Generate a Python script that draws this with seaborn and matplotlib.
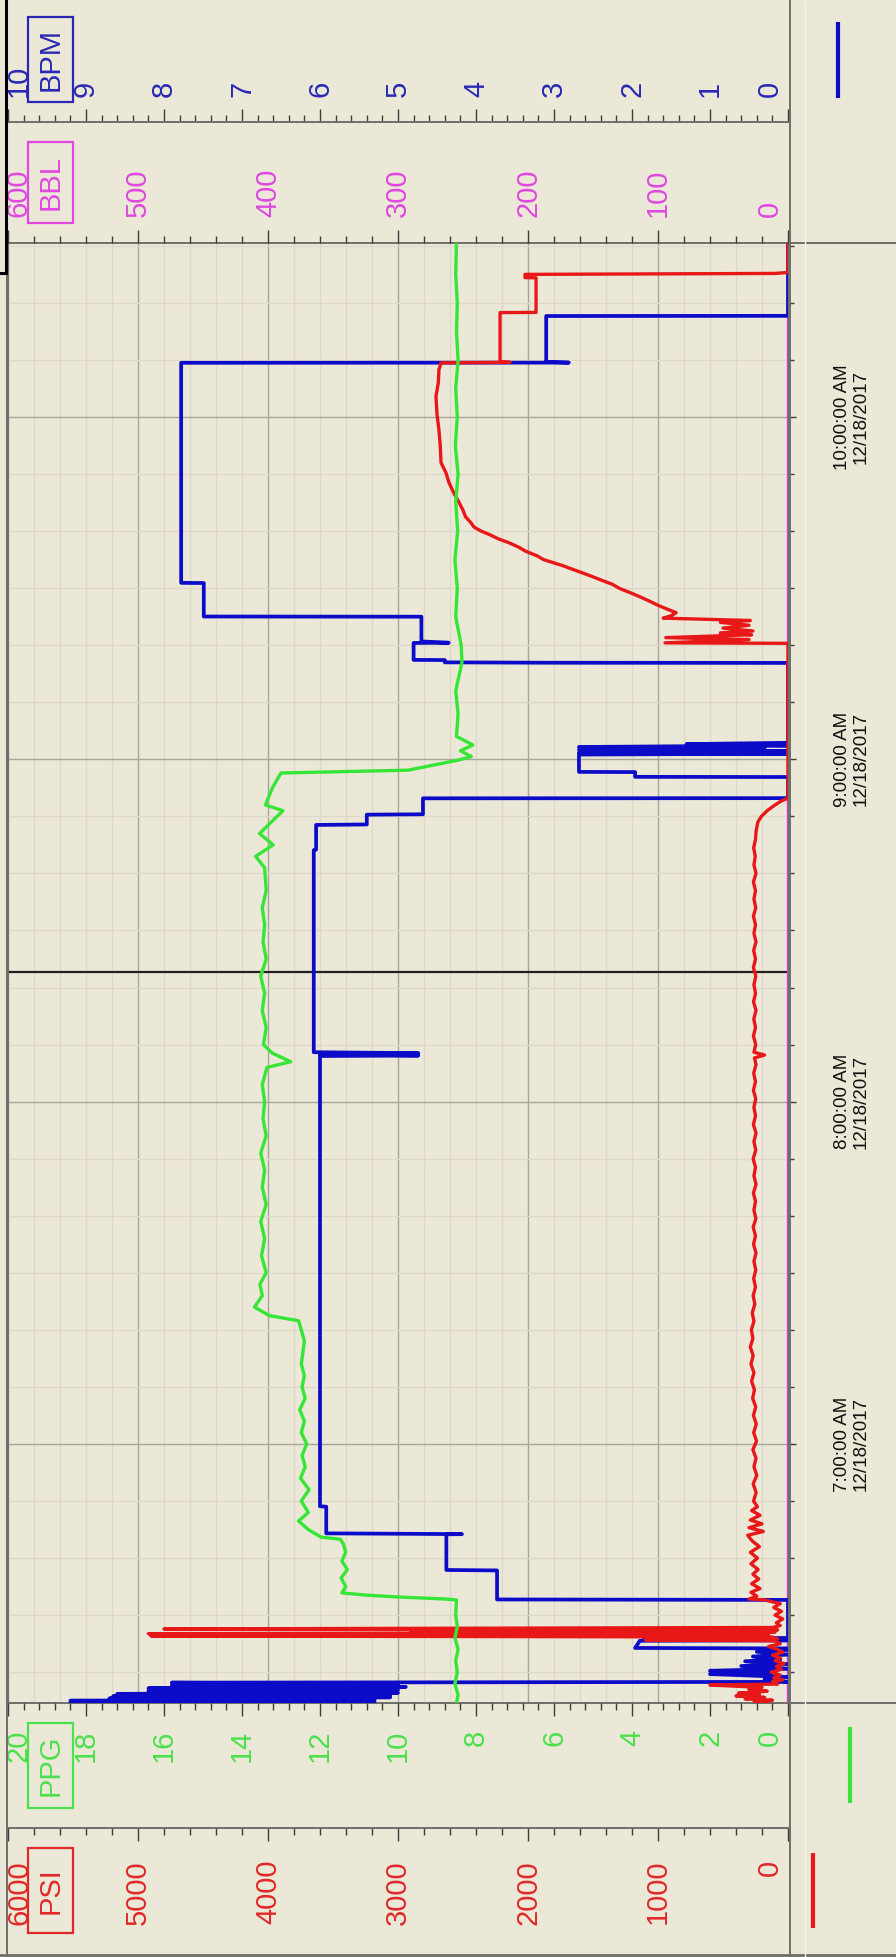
import matplotlib
matplotlib.use("Agg")
import matplotlib.pyplot as plt
import matplotlib.transforms as mtrans
import seaborn as sns
from matplotlib.ticker import MultipleLocator, FixedLocator, FixedFormatter
from matplotlib.patches import Rectangle
from matplotlib.lines import Line2D

# ---------------- data ----------------
DATE = "12/18/2017"
T_START = "06:14:36"
T_END = "10:30:30"
HOUR_TICKS = ["07:00:00", "08:00:00", "09:00:00", "10:00:00"]
HOUR_LABELS = ["7:00:00 AM", "8:00:00 AM", "9:00:00 AM", "10:00:00 AM"]
CURSOR_TIME = "08:22:47"

PSI_TICKS = [0, 1000, 2000, 3000, 4000, 5000, 6000]
PPG_TICKS = [0, 2, 4, 6, 8, 10, 12, 14, 16, 18, 20]
BBL_TICKS = [0, 100, 200, 300, 400, 500, 600]
BPM_TICKS = [0, 1, 2, 3, 4, 5, 6, 7, 8, 9, 10]

psi_time = ["06:14:36", "06:14:50", "06:15:05", "06:15:20", "06:15:35", "06:15:50", "06:16:05",
            "06:16:20", "06:16:40", "06:17:00", "06:17:20", "06:17:35", "06:17:45", "06:17:55",
            "06:18:20", "06:18:40", "06:19:00", "06:19:30", "06:20:00", "06:20:30", "06:21:00",
            "06:21:30", "06:22:00", "06:22:30", "06:23:00", "06:23:30", "06:24:00", "06:24:30",
            "06:25:00", "06:25:30", "06:25:40", "06:25:50", "06:26:10", "06:26:20", "06:26:35",
            "06:26:45", "06:27:00", "06:27:10", "06:27:25", "06:27:35", "06:27:50", "06:28:10",
            "06:28:40", "06:29:20", "06:30:00", "06:30:40", "06:31:20", "06:32:00", "06:32:40",
            "06:32:50", "06:33:20", "06:34:00", "06:34:40", "06:35:30", "06:36:20", "06:37:10",
            "06:38:00", "06:39:00", "06:40:00", "06:41:00", "06:42:00", "06:43:00", "06:44:00",
            "06:44:40", "06:45:20", "06:46:00", "06:46:40", "06:47:30", "06:48:20", "06:49:00",
            "06:50:00", "06:51:30", "06:53:00", "06:54:30", "06:56:00", "06:57:30", "06:59:00",
            "07:00:30", "07:02:00", "07:03:30", "07:05:00", "07:06:30", "07:08:00", "07:09:30",
            "07:11:00", "07:12:30", "07:14:00", "07:15:30", "07:17:00", "07:18:30", "07:20:00",
            "07:21:30", "07:23:00", "07:24:30", "07:26:00", "07:27:30", "07:29:00", "07:30:30",
            "07:32:00", "07:33:30", "07:35:00", "07:36:30", "07:38:00", "07:39:30", "07:41:00",
            "07:42:30", "07:44:00", "07:45:30", "07:47:00", "07:48:30", "07:50:00", "07:51:30",
            "07:53:00", "07:54:30", "07:56:00", "07:57:30", "07:59:00", "08:00:30", "08:02:00",
            "08:03:30", "08:05:00", "08:06:30", "08:07:40", "08:08:10", "08:08:40", "08:10:00",
            "08:11:30", "08:13:00", "08:14:30", "08:16:00", "08:17:30", "08:19:00", "08:20:30",
            "08:22:00", "08:23:30", "08:25:00", "08:26:30", "08:28:00", "08:29:30", "08:31:00",
            "08:32:30", "08:34:00", "08:35:30", "08:37:00", "08:38:30", "08:40:00", "08:41:30",
            "08:43:00", "08:44:30", "08:46:00", "08:47:30", "08:49:00", "08:50:00", "08:51:00",
            "08:52:00", "08:52:40", "08:53:12",
            "09:20:20", "09:20:25", "09:21:00",
            "09:21:20", "09:21:50", "09:22:10", "09:22:30", "09:23:00", "09:23:30", "09:24:00",
            "09:24:20", "09:24:45", "09:25:10", "09:25:42", "09:26:20", "09:27:00", "09:27:40",
            "09:28:30", "09:29:10", "09:30:00", "09:30:40", "09:31:30", "09:32:10", "09:33:00",
            "09:34:00", "09:35:00", "09:35:40", "09:36:30", "09:37:10", "09:37:54", "09:38:40",
            "09:39:20", "09:40:00", "09:40:42", "09:41:30", "09:42:30", "09:43:40", "09:45:00",
            "09:46:40", "09:48:30", "09:50:10", "09:52:00", "09:55:00", "09:57:42", "10:00:30",
            "10:03:36", "10:06:00", "10:08:18", "10:09:30", "10:09:35", "10:09:40", "10:18:18",
            "10:18:20", "10:24:24", "10:24:26", "10:25:00", "10:25:10", "10:25:20", "10:30:30"]
psi_val = [150, 260, 120, 330, 180, 400, 220,
           380, 160, 300, 200, 450, 600, 80,
           120, 40, 110, 60, 130, 50, 90,
           30, 100, 60, 120, 40, 80, 150,
           60, 100, 1100, 80, 120, 4900, 150,
           4920, 100, 2900, 80, 4800, 120, 60,
           90, 40, 100, 50, 110, 60, 180,
           300, 240, 285, 215, 280, 225, 270,
           230, 285, 235, 290, 220, 275, 310,
           190, 300, 200, 290, 215, 280, 235,
           265, 245, 268, 240, 262, 246, 270,
           242, 264, 244, 266, 248, 272, 258,
           280, 262, 285, 268, 290, 270, 282,
           262, 275, 255, 268, 250, 264, 248,
           262, 246, 265, 250, 268, 247, 262,
           250, 266, 246, 262, 250, 268, 248,
           262, 246, 266, 250, 262, 248, 266,
           250, 264, 246, 258, 180, 262, 248,
           266, 250, 263, 246, 265, 250, 262,
           248, 266, 250, 264, 246, 262, 250,
           266, 248, 262, 250, 266, 246, 262,
           252, 264, 250, 245, 232, 205, 160,
           100, 54, 0,
           0, 946, 300,
           940, 280, 520, 270, 500, 300, 520,
           290, 960, 900, 860, 930, 1000, 1060,
           1140, 1210, 1300, 1350, 1446, 1520, 1620,
           1740, 1880, 1930, 2020, 2070, 2140, 2230,
           2290, 2360, 2415, 2440, 2480, 2500, 2530,
           2570, 2608, 2630, 2669, 2675, 2685, 2700,
           2708, 2690, 2685, 2669, 2138, 2215, 2215,
           1938, 1938, 2023, 2023, 100, 0, 0]

ppg_time = ["06:14:36", "06:16:00", "06:18:00", "06:20:00", "06:22:00", "06:24:00", "06:26:00",
            "06:28:00", "06:30:00", "06:32:40", "06:32:50", "06:33:10", "06:33:30", "06:33:54",
            "06:35:00", "06:36:30", "06:38:00", "06:39:30", "06:41:00", "06:42:30", "06:43:18",
            "06:43:40", "06:45:00", "06:46:30", "06:48:00", "06:50:00", "06:52:00", "06:54:00",
            "06:56:00", "06:58:00", "07:00:00", "07:02:00", "07:04:00", "07:06:00", "07:08:00",
            "07:10:00", "07:12:00", "07:14:00", "07:16:00", "07:18:00", "07:20:00", "07:21:36",
            "07:22:30", "07:24:00", "07:26:00", "07:28:00", "07:30:00", "07:33:00", "07:36:00",
            "07:39:00", "07:42:00", "07:45:00", "07:48:00", "07:51:00", "07:54:00", "07:57:00",
            "08:00:00", "08:03:00", "08:06:00", "08:07:00", "08:08:30", "08:10:00", "08:13:00",
            "08:16:00", "08:19:00", "08:22:00", "08:25:00", "08:28:00", "08:31:00", "08:34:00",
            "08:37:00", "08:41:00", "08:43:00", "08:45:00", "08:47:00", "08:49:00", "08:51:00",
            "08:52:00", "08:55:00", "08:57:36", "08:58:06", "08:59:54", "09:00:30", "09:01:30",
            "09:02:30", "09:03:30", "09:04:00", "09:08:00", "09:12:00", "09:17:00", "09:20:00",
            "09:25:00", "09:30:00", "09:35:00", "09:40:00", "09:45:00", "09:50:00", "09:55:00",
            "10:00:00", "10:05:00", "10:10:00", "10:15:00", "10:20:00", "10:25:00", "10:30:30"]
ppg_val = [8.50, 8.46, 8.54, 8.48, 8.52, 8.46, 8.54,
           8.48, 8.52, 8.50, 8.80, 9.95, 10.80, 11.44,
           11.34, 11.46, 11.30, 11.44, 11.34, 11.40, 11.48,
           11.97, 12.30, 12.55, 12.30, 12.48, 12.28, 12.50,
           12.38, 12.46, 12.34, 12.48, 12.40, 12.52, 12.38,
           12.46, 12.40, 12.48, 12.44, 12.40, 12.48, 12.55,
           13.30, 13.68, 13.48, 13.54, 13.38, 13.50, 13.42,
           13.52, 13.38, 13.48, 13.42, 13.52, 13.38, 13.46,
           13.42, 13.48, 13.36, 12.75, 13.22, 13.45, 13.38,
           13.48, 13.42, 13.52, 13.38, 13.46, 13.42, 13.48,
           13.38, 13.42, 13.65, 13.20, 13.55, 13.25, 12.95,
           13.40, 13.22, 13.00, 9.74, 8.43, 8.12, 8.40,
           8.08, 8.35, 8.50, 8.46, 8.52, 8.36, 8.38,
           8.52, 8.48, 8.54, 8.47, 8.52, 8.46, 8.53,
           8.48, 8.52, 8.46, 8.50, 8.48, 8.52, 8.50]

bpm_time = ["06:14:36", "06:14:48", "06:15:00", "06:15:12", "06:15:24", "06:15:36", "06:15:48",
            "06:16:00", "06:16:12", "06:16:24", "06:16:40", "06:16:55", "06:17:10", "06:17:25",
            "06:17:40", "06:17:55", "06:18:10", "06:18:18", "06:18:50", "06:19:10", "06:19:40",
            "06:19:55", "06:20:15", "06:20:35", "06:21:05", "06:21:25", "06:21:55", "06:22:15",
            "06:22:45", "06:23:05", "06:23:35", "06:23:55", "06:24:10", "06:24:15", "06:25:30",
            "06:25:35", "06:25:50", "06:26:00", "06:32:40", "06:32:45", "06:37:50", "06:37:55",
            "06:44:10", "06:44:12", "06:44:20", "06:49:00", "06:49:05", "08:08:00", "08:08:05",
            "08:08:20", "08:08:30", "08:08:40", "08:44:06", "08:44:10", "08:48:30", "08:48:35",
            "08:50:18", "08:50:22", "08:53:10", "08:53:12", "08:56:54", "08:56:56", "08:57:46",
            "08:57:48", "09:00:50", "09:01:00", "09:01:10", "09:01:25", "09:01:40", "09:01:55",
            "09:02:10", "09:02:25", "09:02:40", "09:02:54", "09:16:54", "09:16:56", "09:17:00",
            "09:17:24", "09:17:26", "09:20:24", "09:20:26", "09:20:40", "09:25:00", "09:25:02",
            "09:30:54", "09:30:56", "10:09:30", "10:09:32", "10:09:40", "10:17:42", "10:17:44",
            "10:30:30"]
bpm_val = [9.20, 5.30, 9.20, 5.30, 8.70, 5.10, 8.65,
           5.10, 8.60, 5.00, 8.20, 5.00, 8.20, 4.90,
           7.90, 5.00, 7.90, 0.00, 0.30, 0.00, 1.00,
           0.20, 1.00, 0.00, 0.60, 0.00, 0.55, 0.10,
           0.45, 0.00, 0.40, 0.00, 0.00, 1.96, 1.90,
           0.00, 1.85, 0.00, 0.00, 3.73, 3.73, 4.38,
           4.38, 4.18, 5.92, 5.92, 6.00, 6.00, 4.74,
           6.00, 4.74, 6.08, 6.08, 6.05, 6.05, 5.40,
           5.40, 4.68, 4.68, 0.00, 0.00, 1.96, 1.96,
           2.68, 2.68, 0.00, 2.68, 0.00, 2.68, 0.30,
           2.68, 0.00, 1.30, 0.00, 0.00, 3.10, 4.40,
           4.40, 4.80, 4.80, 4.35, 4.70, 4.70, 7.49,
           7.49, 7.78, 7.78, 2.81, 3.10, 3.10, 0.00,
           0.00]

bbl_time = ["06:14:36", "10:30:30"]
bbl_val = [0, 0]


def hrs(s):
    h, m, sec = (int(p) for p in s.split(":"))
    return h + m / 60 + sec / 3600


# ---------------- style ----------------
BG = "#ECE8D8"
GRID_MAJ = "#A9A59A"
GRID_MIN = "#DDD8C7"
SPINE = "#6E6E6A"
TICKC = "#3C3C3C"
RED = "#E81818"
GREEN = "#36E636"
BLUE = "#0C0CC8"
MAG = "#E030E0"
C_PSI = "#E02828"
C_PPG = "#4CE04C"
C_BBL = "#E048E0"
C_BPM = "#2828B4"

sns.set_theme(style="white")
plt.rcParams["font.family"] = ["Liberation Sans", "DejaVu Sans"]

W, H = 896, 1957
fig = plt.figure(figsize=(W / 100, H / 100), dpi=100, facecolor=BG)

L, R, T, B = 8, 788, 243, 1703


def frect(x0, y0, x1, y1):
    return [x0 / W, 1 - y1 / H, (x1 - x0) / W, (y1 - y0) / H]


PX = 0.72  # points per pixel
MAJ_LEN, MIN_LEN = 13 * PX, 7 * PX
LBL_SIZE = 21

ax = fig.add_axes(frect(L, T, R, B))
ax.set_facecolor(BG)
ax.set_xlim(6000, 0)
ax.set_ylim(hrs(T_START), hrs(T_END))

# twins (drawing order: BBL, BPM, PSI, PPG)
axBBL = ax.twiny()
axBPM = ax.twiny()
axPSI = ax.twiny()
axPPG = ax.twiny()

series = [
    (axBBL, bbl_time, bbl_val, MAG, 2.4),
    (axBPM, bpm_time, bpm_val, BLUE, 2.7),
    (axPSI, psi_time, psi_val, RED, 2.4),
    (axPPG, ppg_time, ppg_val, GREEN, 2.4),
]
for a, tt, vv, col, lw in series:
    sns.lineplot(x=vv, y=[hrs(t) for t in tt], sort=False, estimator=None, orient="y",
                 color=col, linewidth=lw, ax=a, legend=False)
    a.set_xlabel("")
    a.set_ylabel("")
    for sp in a.spines.values():
        sp.set_visible(False)
    a.patch.set_visible(False)

axBBL.set_xlim(600, 0)
axBPM.set_xlim(10, 0)
axPSI.set_xlim(6000, 0)
axPPG.set_xlim(20, 0)
ax.set_ylim(hrs(T_START), hrs(T_END))

# base axes: grid + time axis
ax.xaxis.set_major_locator(FixedLocator(PSI_TICKS))
ax.xaxis.set_minor_locator(MultipleLocator(200))
ax.tick_params(axis="x", which="both", bottom=False, top=False, labelbottom=False, labeltop=False)
ax.yaxis.set_major_locator(FixedLocator([hrs(t) for t in HOUR_TICKS]))
ax.yaxis.set_major_formatter(FixedFormatter([f"{lab}\n{DATE}" for lab in HOUR_LABELS]))
ax.yaxis.set_minor_locator(MultipleLocator(1 / 6))
ax.yaxis.tick_right()
ax.tick_params(axis="y", which="major", direction="out", length=8 * PX, width=1, color=TICKC,
               labelsize=13.5, labelcolor="#101010", pad=27, labelrotation=90,
               right=True, left=False, labelright=True, labelleft=False)
ax.tick_params(axis="y", which="minor", direction="out", length=6 * PX, width=1, color=TICKC,
               right=True, left=False)
for lab in ax.get_yticklabels():
    lab.set_va("center")
    lab.set_ha("left")
    lab.set_multialignment("center")
ax.grid(True, which="minor", color=GRID_MIN, lw=1.0)
ax.grid(True, which="major", color=GRID_MAJ, lw=1.0)
ax.set_axisbelow(True)
for sp in ax.spines.values():
    sp.set_color(SPINE)
    sp.set_linewidth(1.4)

# cursor line
ax.axhline(hrs(CURSOR_TIME), color="#202020", lw=1.6, zorder=1)

for a in (axBBL, axBPM, axPSI, axPPG):
    a.tick_params(axis="x", which="both", top=False, bottom=False, labeltop=False, labelbottom=False)

# BBL axis on top of plot
axBBL.xaxis.set_major_locator(FixedLocator(BBL_TICKS))
axBBL.xaxis.set_minor_locator(MultipleLocator(20))
axBBL.tick_params(axis="x", which="major", top=True, labeltop=True, direction="out",
                  length=MAJ_LEN, width=1, color=TICKC, labelsize=LBL_SIZE, labelcolor=C_BBL,
                  labelrotation=90, pad=13 * PX)
axBBL.tick_params(axis="x", which="minor", top=True, direction="out", length=MIN_LEN, width=1,
                  color=TICKC)

# PPG axis below plot
axPPG.xaxis.set_ticks_position("bottom")
axPPG.xaxis.set_major_locator(FixedLocator(PPG_TICKS))
axPPG.xaxis.set_minor_locator(MultipleLocator(0.4))
axPPG.tick_params(axis="x", which="major", bottom=True, labelbottom=True, top=False, labeltop=False,
                  direction="out", length=MAJ_LEN, width=1, color=TICKC, labelsize=LBL_SIZE,
                  labelcolor=C_PPG, labelrotation=90, pad=14 * PX)
axPPG.tick_params(axis="x", which="minor", bottom=True, top=False, direction="out",
                  length=MIN_LEN, width=1, color=TICKC)

# PSI strip axis
axPSIs = fig.add_axes(frect(L, B, R, 1828))
axPSIs.set_xlim(6000, 0)
axPSIs.patch.set_visible(False)
axPSIs.set_yticks([])
for k, sp in axPSIs.spines.items():
    sp.set_visible(k == "bottom")
axPSIs.spines["bottom"].set_color(SPINE)
axPSIs.spines["bottom"].set_linewidth(1.4)
axPSIs.xaxis.set_major_locator(FixedLocator(PSI_TICKS))
axPSIs.xaxis.set_minor_locator(MultipleLocator(200))
axPSIs.tick_params(axis="x", which="major", bottom=True, labelbottom=True, direction="out",
                   length=MAJ_LEN, width=1, color=TICKC, labelsize=LBL_SIZE, labelcolor=C_PSI,
                   labelrotation=90, pad=19 * PX)
axPSIs.tick_params(axis="x", which="minor", bottom=True, direction="out", length=MIN_LEN,
                   width=1, color=TICKC)

# BPM strip axis
axBPMs = fig.add_axes(frect(L, 122, R, T))
axBPMs.set_xlim(10, 0)
axBPMs.patch.set_visible(False)
axBPMs.set_yticks([])
for k, sp in axBPMs.spines.items():
    sp.set_visible(k == "top")
axBPMs.spines["top"].set_color(SPINE)
axBPMs.spines["top"].set_linewidth(1.4)
axBPMs.xaxis.set_ticks_position("top")
axBPMs.xaxis.set_major_locator(FixedLocator(BPM_TICKS))
axBPMs.xaxis.set_minor_locator(MultipleLocator(0.2))
axBPMs.tick_params(axis="x", which="major", top=True, labeltop=True, bottom=False,
                   labelbottom=False, direction="out", length=MAJ_LEN, width=1, color=TICKC,
                   labelsize=LBL_SIZE, labelcolor=C_BPM, labelrotation=90, pad=12 * PX)
axBPMs.tick_params(axis="x", which="minor", top=True, bottom=False, direction="out",
                   length=MIN_LEN, width=1, color=TICKC)

# shift edge tick labels inward (as the reference does)
fig.canvas.draw()
for a in (axBBL, axPPG, axPSIs, axBPMs):
    ticks = a.xaxis.get_major_ticks()
    for i, tk in enumerate(ticks):
        if i == 0:
            off = mtrans.ScaledTranslation(-18 / 100, 0, fig.dpi_scale_trans)
        elif i == len(ticks) - 1:
            off = mtrans.ScaledTranslation(11 / 100, 0, fig.dpi_scale_trans)
        else:
            continue
        for lab in (tk.label1, tk.label2):
            lab.set_transform(lab.get_transform() + off)

# unit boxes
boxes = [("BPM", 17, 102, C_BPM), ("BBL", 142, 223, C_BBL),
         ("PPG", 1723, 1808, C_PPG), ("PSI", 1848, 1933, C_PSI)]
for name, y0, y1, col in boxes:
    fig.add_artist(Rectangle((28 / W, 1 - y1 / H), 45 / W, (y1 - y0) / H,
                             transform=fig.transFigure, facecolor=BG, edgecolor=col,
                             lw=1.6, zorder=5))
    fig.text(50.5 / W, 1 - (y0 + y1) / 2 / H, name, rotation=90, ha="center", va="center",
             fontsize=LBL_SIZE, color=col, zorder=6)

# legend swatches
swatches = [(838, 22, 98, BLUE), (850, 1727, 1803, GREEN), (813, 1853, 1928, RED)]
for x, y0, y1, col in swatches:
    fig.add_artist(Line2D([x / W, x / W], [1 - y0 / H, 1 - y1 / H], transform=fig.transFigure,
                          color=col, lw=3.0, solid_capstyle="butt"))


# frame lines
def fline(x0, y0, x1, y1, col, lw):
    fig.add_artist(Line2D([x0 / W, x1 / W], [1 - y0 / H, 1 - y1 / H], transform=fig.transFigure,
                          color=col, lw=lw))


fline(790, 0, 790, H, SPINE, 1.4)
fline(790, T, W, T, SPINE, 1.4)
fline(790, B, W, B, SPINE, 1.4)
fline(7, T, 7, H, SPINE, 1.4)
fline(0, 1955, W, 1955, SPINE, 2.0)
fline(805, 0, 805, H, "#F6F3EA", 1.0)
fline(6, 0, 6, 273, "#000000", 2.2)
fline(0, 273, 6, 273, "#000000", 2.2)

fig.savefig("out.png", dpi=100, facecolor=BG)
